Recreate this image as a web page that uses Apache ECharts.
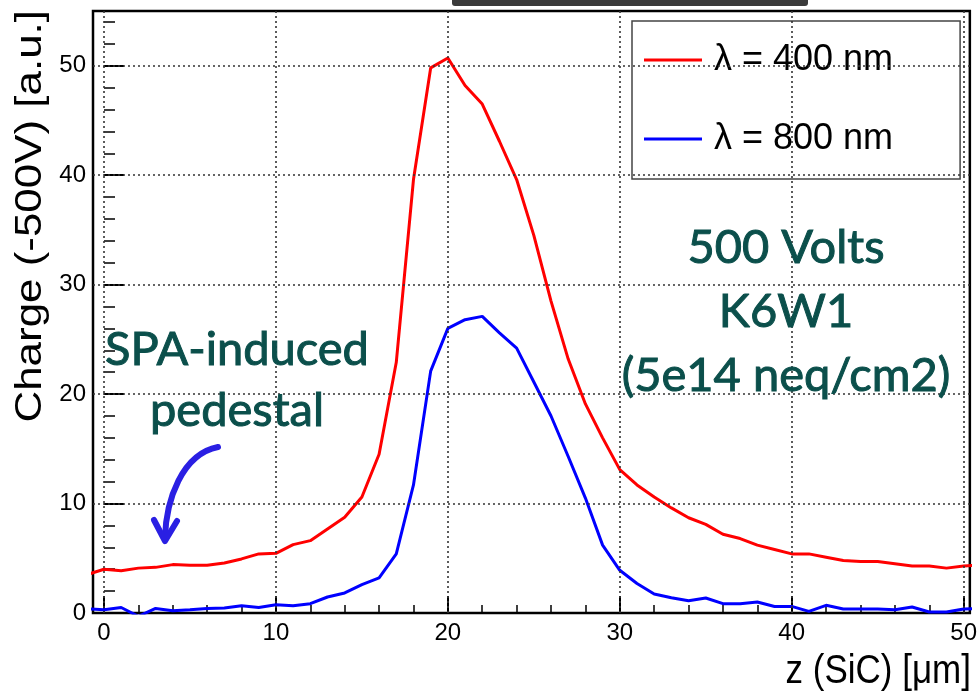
<!DOCTYPE html>
<html><head><meta charset="utf-8">
<script src="https://cdn.jsdelivr.net/npm/echarts@6/dist/echarts.min.js"></script>
<style>html,body{margin:0;padding:0;background:#fff}#c{width:980px;height:693px}</style>
</head><body><div id="c"></div>
<script>
// ---- data ----
const zValues = [-1,0,1,2,3,4,5,6,7,8,9,10,11,12,13,14,15,16,17,18,19,20,21,22,23,24,25,26,27,28,29,30,31,32,33,34,35,36,37,38,39,40,41,42,43,44,45,46,47,48,49,50,51];
const charge400 = [3.5,4.0,3.87,4.1,4.17,4.42,4.36,4.36,4.57,4.94,5.4,5.45,6.25,6.61,7.68,8.75,10.6,14.5,22.9,39.6,49.8,50.7,48.2,46.5,43.1,39.6,34.5,28.5,23.2,19.1,16.0,13.1,11.7,10.6,9.6,8.7,8.1,7.2,6.8,6.2,5.8,5.4,5.4,5.1,4.8,4.7,4.7,4.5,4.3,4.3,4.1,4.3,4.4];
const charge800 = [0.4,0.3,0.5,-0.3,0.42,0.21,0.3,0.42,0.45,0.67,0.51,0.76,0.67,0.85,1.46,1.83,2.59,3.2,5.4,11.7,22.1,26.0,26.8,27.1,25.6,24.2,21.1,18.0,14.3,10.5,6.2,3.9,2.7,1.74,1.4,1.12,1.37,0.85,0.85,1.0,0.6,0.6,0.15,0.7,0.37,0.37,0.37,0.3,0.55,0.09,0.09,0.37,0.4];
const seriesNames = ['λ = 400 nm', 'λ = 800 nm'];
const xMajorValues = [0,10,20,30,40,50];
const xMinorValues = [0,2,4,6,8,10,12,14,16,18,20,22,24,26,28,30,32,34,36,38,40,42,44,46,48,50];
const yMajorValues = [0,10,20,30,40,50];
const yMinorValues = [0,2,4,6,8,10,12,14,16,18,20,22,24,26,28,30,32,34,36,38,40,42,44,46,48,50,52,54];
const xGridValues = [0,10,20,30,40,50];
const yGridValues = [10,20,30,40,50];
const xTitle = 'z (SiC) [μm]';
const yTitle = 'Charge (-500V) [a.u.]';
const noteRight = '500 Volts\nK6W1\n(5e14 neq/cm2)';
const noteLeft = 'SPA-induced\npedestal';

// ---- chart ----
const FONT = 'Liberation Sans';
const chart = echarts.init(document.getElementById('c'), null, {renderer: 'canvas'});
const XMIN = -0.64, XMAX = 50.36;
const pairs = arr => zValues.map((z, i) => [z, arr[i]]);
const NOTE_COLOR = '#0b4f4b';

const option = {
  animation: false,
  backgroundColor: '#fff',
  grid: {left: 93, right: 5, top: 11, bottom: 80, show: true, borderColor: '#000', borderWidth: 2.5, backgroundColor: 'transparent'},
  xAxis: [
    {type: 'value', min: XMIN, max: XMAX, position: 'bottom',
     axisLine: {show: false}, splitLine: {show: false},
     axisTick: {show: true, inside: true, length: 17, customValues: xMajorValues, lineStyle: {color: '#000', width: 2}},
     axisLabel: {show: true, customValues: xMajorValues, margin: 8, fontFamily: FONT, fontSize: 24, color: '#000'}},
    {type: 'value', min: XMIN, max: XMAX, position: 'bottom',
     axisLine: {show: false}, splitLine: {show: false}, axisLabel: {show: false},
     axisTick: {show: true, inside: true, length: 8, customValues: xMinorValues, lineStyle: {color: '#000', width: 1.5}}}
  ],
  yAxis: [
    {type: 'value', min: 0, max: 55, position: 'left',
     axisLine: {show: false}, splitLine: {show: false},
     axisTick: {show: true, inside: true, length: 20, customValues: yMajorValues, lineStyle: {color: '#000', width: 2}},
     axisLabel: {show: true, customValues: yMajorValues, margin: 7, fontFamily: FONT, fontSize: 24, color: '#000'}},
    {type: 'value', min: 0, max: 55, position: 'left',
     axisLine: {show: false}, splitLine: {show: false}, axisLabel: {show: false},
     axisTick: {show: true, inside: true, length: 11, customValues: yMinorValues, lineStyle: {color: '#000', width: 1.5}}}
  ],
  legend: {
    data: seriesNames, orient: 'vertical', left: 632, top: 21,
    padding: [19, 67, 20, 12], itemGap: 39, itemWidth: 58, itemHeight: 3, icon: 'rect',
    backgroundColor: '#fff', borderColor: '#444', borderWidth: 1.5, selectedMode: false,
    textStyle: {fontFamily: FONT, fontSize: 36, color: '#000', lineHeight: 40, padding: [0, 0, 0, 7]}
  },
  series: [
    {name: 'grid', type: 'line', data: [], silent: true, z: 1,
     markLine: {silent: true, symbol: 'none', animation: false, label: {show: false},
       lineStyle: {color: '#333', width: 1.6, type: [2, 3]},
       data: xGridValues.map(v => ({xAxis: v})).concat(yGridValues.map(v => ({yAxis: v})))}},
    {name: seriesNames[0], type: 'line', data: pairs(charge400), showSymbol: false, symbol: 'none', clip: true, z: 3,
     color: '#ff0000', lineStyle: {color: '#ff0000', width: 3}},
    {name: seriesNames[1], type: 'line', data: pairs(charge800), showSymbol: false, symbol: 'none', clip: true, z: 3,
     color: '#0000ff', lineStyle: {color: '#0000ff', width: 3}}
  ],
  graphic: [
    {type: 'rect', shape: {x: 452, y: -6, width: 356, height: 12, r: 3}, style: {fill: '#3a3a3a'}},
    {type: 'text', x: 13, y: 10, rotation: Math.PI / 2, scaleX: 1.22,
     style: {text: yTitle, font: '36px "Liberation Sans"', fill: '#000', align: 'right', verticalAlign: 'top'}},
    {type: 'text', x: 971, y: 672, scaleY: 1.15,
     style: {text: xTitle, font: '35px "Liberation Sans"', fill: '#000', align: 'right', verticalAlign: 'middle'}},
    {type: 'text', x: 786, y: 216, z: 10,
     style: {text: noteRight, font: '47px Lato', fill: NOTE_COLOR, stroke: NOTE_COLOR, lineWidth: 1,
             align: 'center', verticalAlign: 'top', lineHeight: 64}},
    {type: 'text', x: 237, y: 319, z: 10,
     style: {text: noteLeft, font: '47px Lato', fill: NOTE_COLOR, stroke: NOTE_COLOR, lineWidth: 1,
             align: 'center', verticalAlign: 'top', lineHeight: 61}},
    {type: 'bezierCurve', z: 10, shape: {x1: 218, y1: 447, cpx1: 182, cpy1: 454, cpx2: 166, cpy2: 500, x2: 165, y2: 538},
     style: {stroke: '#2a1fe3', lineWidth: 6, fill: null, lineCap: 'round'}},
    {type: 'polyline', z: 10, shape: {points: [[154, 520], [165, 541], [177, 521]]},
     style: {stroke: '#2a1fe3', lineWidth: 6, fill: null, lineCap: 'round', lineJoin: 'round'}}
  ]
};
chart.setOption(option);
</script></body></html>
